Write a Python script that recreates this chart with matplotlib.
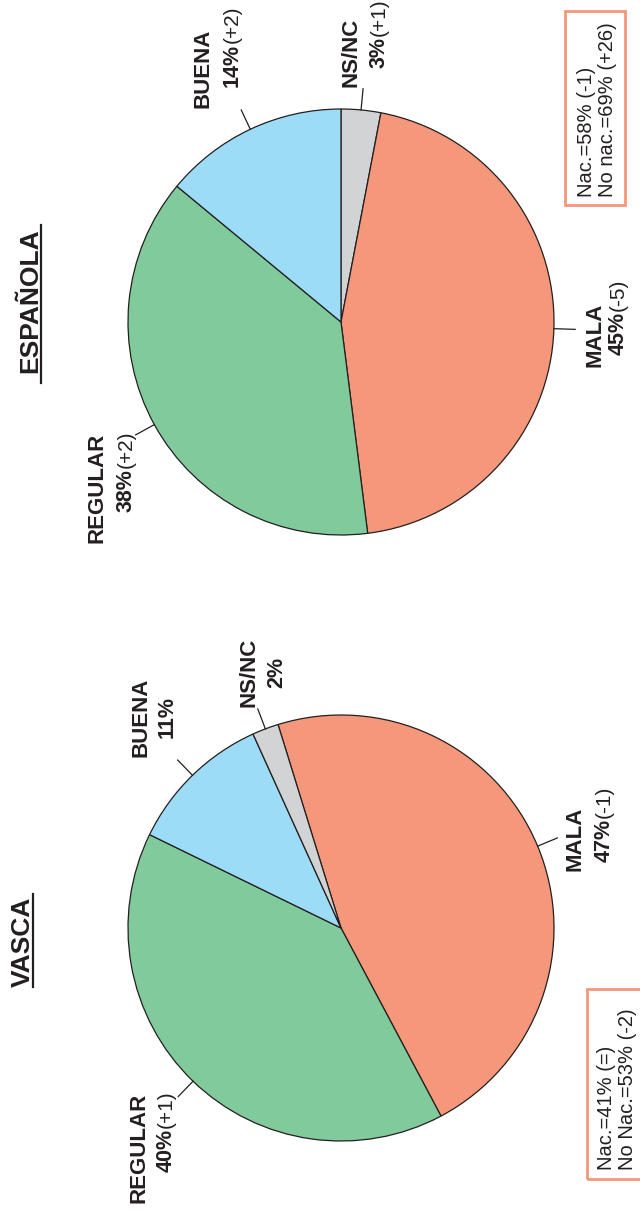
import numpy as np
import matplotlib.pyplot as plt
from matplotlib.patches import Rectangle
from matplotlib.lines import Line2D

plt.rcParams['font.family'] = ['Liberation Sans', 'DejaVu Sans']

W, H = 640, 1213
INK = '#231f20'
SALMON = '#f4977a'

# datos (encuesta): situacion politica vasca / española
esp_cats = ['NS/NC', 'MALA', 'REGULAR', 'BUENA']
esp_vals = [3, 45, 38, 14]
esp_diff = ['(+1)', '(-5)', '(+2)', '(+2)']
esp_nac = ['Nac.=58% (-1)', 'No nac.=69% (+26)']

vas_cats = ['MALA', 'REGULAR', 'BUENA', 'NS/NC']
vas_vals = [47, 40, 11, 2]
vas_diff = ['(-1)', '(+1)', '', '']
vas_nac = ['Nac.=41% (=)', 'No Nac.=53% (-2)']

colors = {'MALA': '#f4977a', 'REGULAR': '#80ca9c', 'BUENA': '#9ddcf7', 'NS/NC': '#d1d3d4'}

# posiciones de etiquetas en pixeles (x de la linea base, y del inicio)
esp_pos = {'NS/NC': [(357, 87), (385, 68)], 'MALA': [(600, 367), (624, 355)],
           'REGULAR': [(103, 543), (132, 512)], 'BUENA': [(209, 108), (238, 87)]}
vas_pos = {'MALA': [(580, 871), (610, 862)], 'REGULAR': [(145, 1203), (172, 1172)],
           'BUENA': [(147, 757), (173, 738)], 'NS/NC': [(254, 707), (282, 688)]}

fig = plt.figure(figsize=(6.4, 12.13), dpi=100)
renderer = fig.canvas.get_renderer()


def px(x, y):
    return x / W, 1 - y / H


def label(x, y, s, size, weight='normal'):
    return fig.text(x / W, y, s, rotation=90, rotation_mode='anchor', ha='left',
                    va='baseline', fontsize=size, fontweight=weight, color=INK)


def text_px(x, y, s, size, weight='normal'):
    return label(x, 1 - y / H, s, size, weight)


def draw_pie(cats, vals, cx, cy, r, start):
    ax = fig.add_axes([(cx - r) / W, 1 - (cy + r) / H, 2 * r / W, 2 * r / H])
    wedges, _ = ax.pie(vals, colors=[colors[c] for c in cats], startangle=start,
                       counterclock=False, wedgeprops=dict(edgecolor=INK, linewidth=0.9))
    ax.set_xlim(-1, 1)
    ax.set_ylim(-1, 1)
    for w in wedges:
        a = np.deg2rad((w.theta1 + w.theta2) / 2)
        ax.plot([np.cos(a), 1.1 * np.cos(a)], [np.sin(a), 1.1 * np.sin(a)],
                color=INK, lw=0.9, clip_on=False)


def draw_labels(cats, vals, diffs, pos):
    for c, v, d in zip(cats, vals, diffs):
        (x1, y1), (x2, y2) = pos[c]
        text_px(x1, y1, c, 16, 'bold')
        t = text_px(x2, y2, '%d%%' % v, 15.5, 'bold')
        if d:
            bb = t.get_window_extent(renderer)
            label(x2, bb.y1 / fig.bbox.height + 0.0008, d, 15)


def draw_box(x0, y0, x1, y1, lines, bx, by):
    fig.add_artist(Rectangle(px(x0, y1), (x1 - x0) / W, (y1 - y0) / H,
                             transform=fig.transFigure, fill=False,
                             edgecolor=SALMON, lw=2.0))
    for i, s in enumerate(lines):
        text_px(bx + 21 * i, by, s, 14.5)


# ESPAÑOLA (arriba)
draw_pie(esp_cats, esp_vals, 341, 322, 213, 90)
draw_labels(esp_cats, esp_vals, esp_diff, esp_pos)
text_px(37, 373, 'ESPAÑOLA', 19, 'bold')
fig.add_artist(Line2D([41 / W, 41 / W], [1 - 383 / H, 1 - 225 / H], color=INK, lw=1.6))
draw_box(565, 11, 625, 205, esp_nac, 592, 197)

# VASCA (abajo)
draw_pie(vas_cats, vas_vals, 341, 928, 213, 107.2)
draw_labels(vas_cats, vas_vals, vas_diff, vas_pos)
text_px(30, 987, 'VASCA', 19, 'bold')
fig.add_artist(Line2D([33 / W, 33 / W], [1 - 987 / H, 1 - 894 / H], color=INK, lw=1.6))
draw_box(587, 989, 646, 1179, vas_nac, 612, 1170)

fig.savefig('out.png', dpi=100)
